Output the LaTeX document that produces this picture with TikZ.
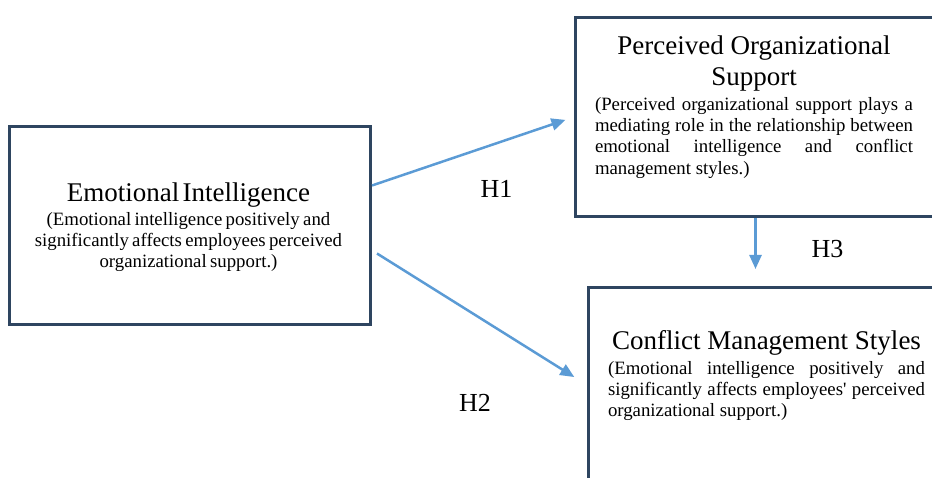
\documentclass[tikz,border=0pt]{standalone}
\usepackage{fontspec}
\setmainfont{Liberation Serif}
\usetikzlibrary{arrows.meta}
\definecolor{boxcol}{HTML}{2E4560}
\definecolor{arrcol}{HTML}{5B9BD5}
\newcommand{\ttlfont}{\fontsize{27}{31}\selectfont}
\newcommand{\bodyfont}{\fontsize{18.8}{21.3}\selectfont}
\tikzset{
 boxnode/.style={draw=boxcol, line width=3pt, rectangle, inner sep=0pt, anchor=north west},
 txt/.style={inner sep=0pt, anchor=base},
 arr/.style={draw=arrcol, line width=2.5pt, -{Triangle[length=14pt,width=12pt]}},
 hlab/.style={inner sep=0pt, anchor=base, font=\fontsize{26}{30}\selectfont},
}
\begin{document}
\begin{tikzpicture}[x=1pt,y=-1pt]
\useasboundingbox (0,0) rectangle (932,478);
\clip (0,0) rectangle (932,478);
\node[boxnode, minimum width=361pt, minimum height=198pt] (ei) at (8,125) {};
\node[boxnode, minimum width=360pt, minimum height=199pt] (pos) at (574,16) {};
\node[boxnode, minimum width=360pt, minimum height=260pt] (cms) at (587,286) {};

\node[txt, text width=330pt, align=center] (eit) at (188.5,202) {{\ttlfont Emotional Intelligence\par}\vspace{2pt}{\bodyfont (Emotional intelligence positively and\\ significantly affects employees perceived\\ organizational support.)\par}};

\node[txt, text width=318pt, align=justify] (post) at (754,55) {{\centering\ttlfont Perceived Organizational\\ Support\par}\vspace{3pt}{\bodyfont (Perceived organizational support plays a\linebreak mediating role in the relationship between\linebreak emotional intelligence and conflict\linebreak management styles.)\par}};

\node[txt, text width=317pt, align=justify] (cmst) at (766.5,350) {{\centering\ttlfont Conflict Management Styles\par}\vspace{3pt}{\bodyfont (Emotional intelligence positively and\linebreak significantly affects employees\textquotesingle{} perceived\linebreak organizational support.)\par}};

\draw[arr, shorten >=9pt] ([yshift=40pt]ei.east) -- (pos.west);
\draw[arr, shorten >=15pt] ([xshift=5pt,yshift=-28pt]ei.east) -- ([yshift=-99pt]cms.north west);
\draw[arr, shorten >=17pt] (pos.south) -- (pos.south |- cms.north);

\node[hlab] (h1) at (496.5,198) {H1};
\node[hlab] (h2) at (475,411) {H2};
\node[hlab] (h3) at (827.5,258) {H3};
\end{tikzpicture}
\end{document}
